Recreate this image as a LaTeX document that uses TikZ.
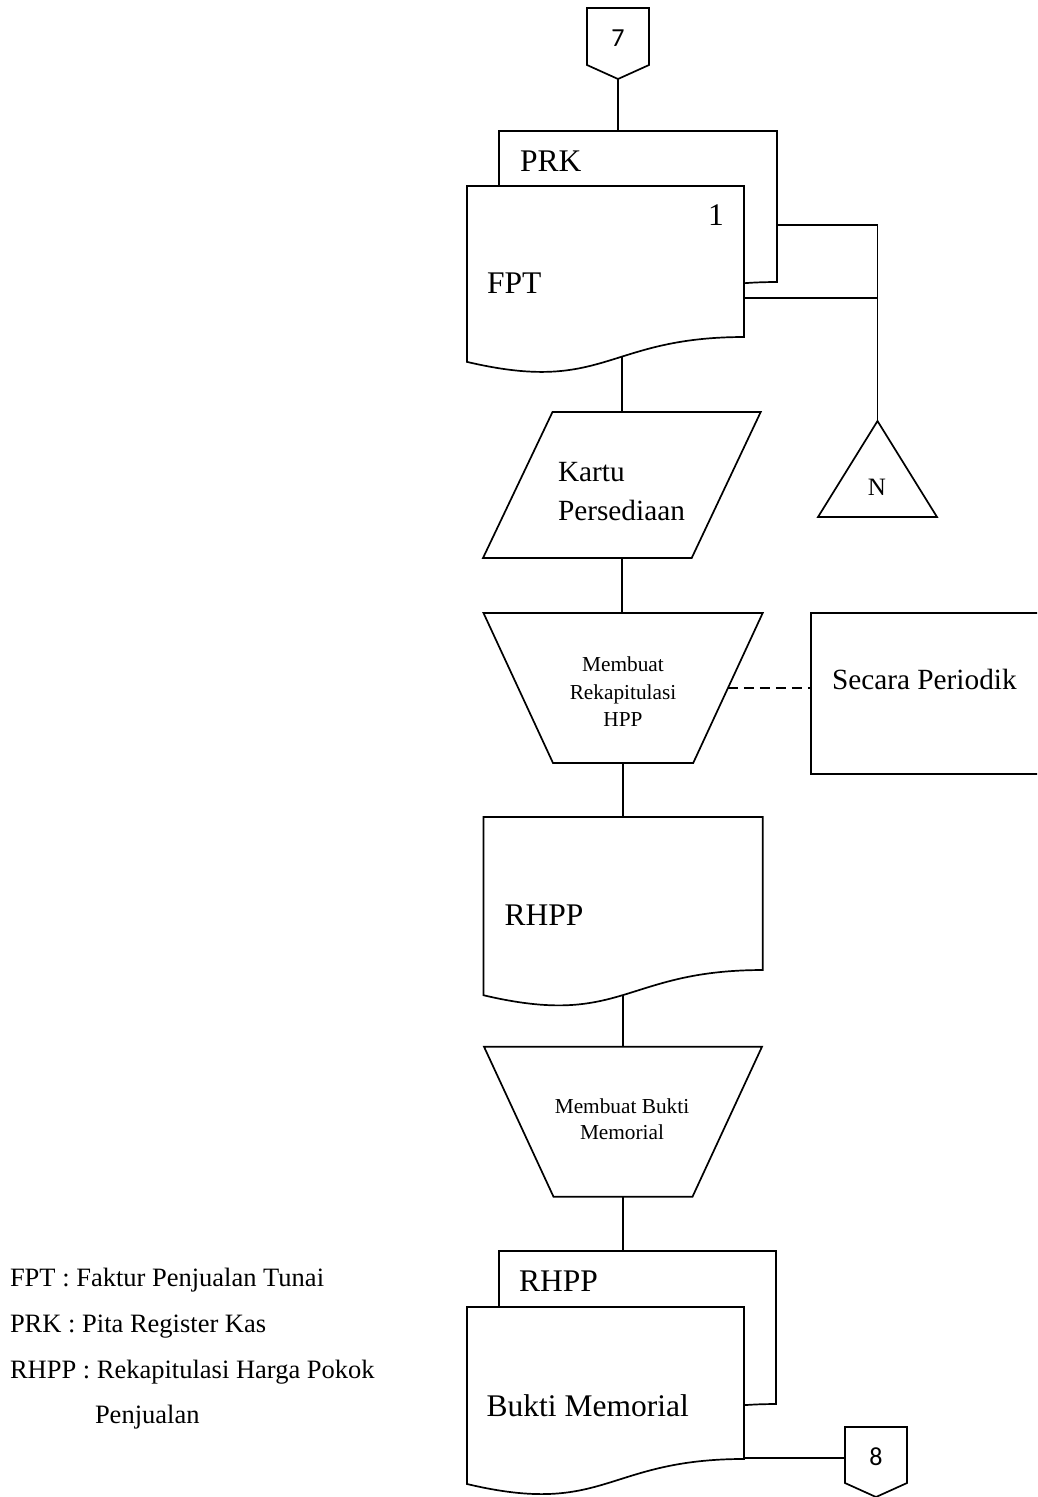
\documentclass[tikz,border=0pt]{standalone}
\usepackage{fontspec}
\setmainfont{Liberation Serif}
\newfontfamily\digitfont{Carlito}
\usetikzlibrary{calc}

\tikzset{
  frame/.style={rectangle, draw=none, inner sep=0pt, outer sep=0pt},
  outline/.style={draw=black, line width=1.7pt, fill=white, line join=miter},
  link/.style={draw=black, line width=1.7pt},
  lbl/.style={inner sep=0pt, outer sep=0pt, anchor=base west},
  lblc/.style={inner sep=0pt, outer sep=0pt, anchor=base},
}
\newcommand\fsz[1]{\fontsize{#1}{#1}\selectfont}
% document symbol with a wavy lower edge
\newcommand\docoutline[1]{%
  \path[outline] (#1.north west) -- (#1.north east)
    -- ($(#1.north east)!0.802!(#1.south east)$)
    .. controls ($(#1.north)!0.802!(#1.south)$) and ($(#1.north)!1.1075!(#1.south)$)
    .. ($(#1.north west)!0.934!(#1.south west)$) -- cycle;}
% off-page connector
\newcommand\pageoutline[1]{%
  \path[outline] (#1.north west) -- (#1.north east) -- ([yshift=14pt]#1.south east)
    -- (#1.south) -- ([yshift=14pt]#1.south west) -- cycle;}

\begin{document}
\begin{tikzpicture}[x=1pt, y=-1pt]
\useasboundingbox (0,0) rectangle (1037,1497);
\clip (0,0) rectangle (1037,1497);

% ---- frames of the symbols
\node[frame, minimum width=62pt,    minimum height=71pt]    (c7)       at (618,43.5)     {};
\node[frame, minimum width=278pt,   minimum height=188.3pt] (prk)      at (638,225.15)   {};
\node[frame, minimum width=277pt,   minimum height=188.3pt] (fpt)      at (605.5,280.15) {};
\node[frame, minimum width=277.7pt, minimum height=146pt]   (kartu)    at (621.85,485)   {};
\node[frame, minimum width=119pt,   minimum height=96pt]    (tri)      at (877.5,469)    {};
\node[frame, minimum width=279.2pt, minimum height=150pt]   (hpp)      at (623.1,688)    {};
\node[frame, minimum width=234pt,   minimum height=161pt]   (periodik) at (928,693.5)    {};
\node[frame, minimum width=279.2pt, minimum height=190.8pt] (rhpp)     at (623.1,912.4)  {};
\node[frame, minimum width=278pt,   minimum height=150pt]   (bm)       at (623,1121.7)   {};
\node[frame, minimum width=277pt,   minimum height=190.8pt] (rhpptwo)  at (637.5,1346.4) {};
\node[frame, minimum width=277pt,   minimum height=189.5pt] (bmdoc)    at (605.5,1401.75){};
\node[frame, minimum width=62pt,    minimum height=70pt]    (c8)       at (876,1462)     {};

\coordinate (hppR) at ($(hpp.north east)!0.5!([xshift=-69.5pt]hpp.south east)$);
\coordinate (fptR) at ([yshift=-18pt]fpt.east);
\coordinate (bmR)  at ([yshift=-56pt]bmdoc.east);

% ---- connectors
\draw[link] (c7.south) -- (c7.south |- prk.north);
\draw[link] (kartu.north) -- (kartu.north |- fpt.center);
\draw[link] (kartu.south) -- (kartu.south |- hpp.north);
\draw[link] (hpp.south) -- (hpp.south |- rhpp.north);
\draw[link] (bm.north) -- (bm.north |- rhpp.center);
\draw[link] (bm.south) -- (bm.south |- rhpptwo.north);
\draw[link] (prk.east) -- (prk.east -| tri.north) -- (tri.north);
\draw[link] (fptR) -- (fptR -| tri.north);
\draw[link, dash pattern=on 10pt off 6pt] (hppR) -- (hppR -| periodik.west);
\draw[link] (bmR) -- (bmR -| c8.west);

% ---- symbols
\pageoutline{c7}
\docoutline{prk}
\docoutline{fpt}
\path[outline] ([xshift=69.5pt]kartu.north west) -- (kartu.north east)
  -- ([xshift=-69pt]kartu.south east) -- (kartu.south west) -- cycle;
\path[outline] (tri.north) -- (tri.south east) -- (tri.south west) -- cycle;
\path[outline] (hpp.north west) -- (hpp.north east)
  -- ([xshift=-69.5pt]hpp.south east) -- ([xshift=69.5pt]hpp.south west) -- cycle;
\path[outline] (periodik.north west) rectangle (periodik.south east);
\docoutline{rhpp}
\path[outline] (bm.north west) -- (bm.north east)
  -- ([xshift=-69.5pt]bm.south east) -- ([xshift=69.5pt]bm.south west) -- cycle;
\docoutline{rhpptwo}
\docoutline{bmdoc}
\pageoutline{c8}

% ---- texts
\node[lblc] (t7) at (618,46.7) {\digitfont\fsz{26}7};
\node[lbl] (tprk) at (520,171.7) {\fsz{31.5}PRK};
\node[lblc] (tone) at (716,225) {\fsz{31.5}1};
\node[lbl] (tfpt) at (487,293.3) {\fsz{31.5}FPT};
\node[lbl] (tkartu) at (558,481.7) {\fsz{29.3}Kartu};
\node[lbl] (tpers) at (558,520.7) {\fsz{29.3}Persediaan};
\node[lblc] (tn) at (877,495) {\fsz{25}N};
\node[lblc] (th1) at (623,671.7) {\fsz{21.3}Membuat};
\node[lblc] (th2) at (623,699.3) {\fsz{21.3}Rekapitulasi};
\node[lblc] (th3) at (623,726.7) {\fsz{21.3}HPP};
\node[lbl] (tper) at (832,689.3) {\fsz{29.3}Secara Periodik};
\node[lbl] (trhpp) at (504.5,925) {\fsz{31.5}RHPP};
\node[lblc] (tb1) at (622,1113) {\fsz{21.3}Membuat Bukti};
\node[lblc] (tb2) at (622,1139.5) {\fsz{21.3}Memorial};
\node[lbl] (trhpptwo) at (519,1291.7) {\fsz{31.5}RHPP};
\node[lbl] (tbm) at (486.7,1416) {\fsz{31.5}Bukti Memorial};
\node[lblc] (t8) at (876,1465) {\digitfont\fsz{26}8};

% ---- legend
\node[lbl] (lg1) at (10,1286.7) {\fsz{26.5}FPT : Faktur Penjualan Tunai};
\node[lbl] (lg2) at (10,1332) {\fsz{26.5}PRK : Pita Register Kas};
\node[lbl] (lg3) at (10,1378) {\fsz{26.5}RHPP : Rekapitulasi Harga Pokok};
\node[lbl] (lg4) at (95,1423) {\fsz{26.5}Penjualan};
\end{tikzpicture}
\end{document}
